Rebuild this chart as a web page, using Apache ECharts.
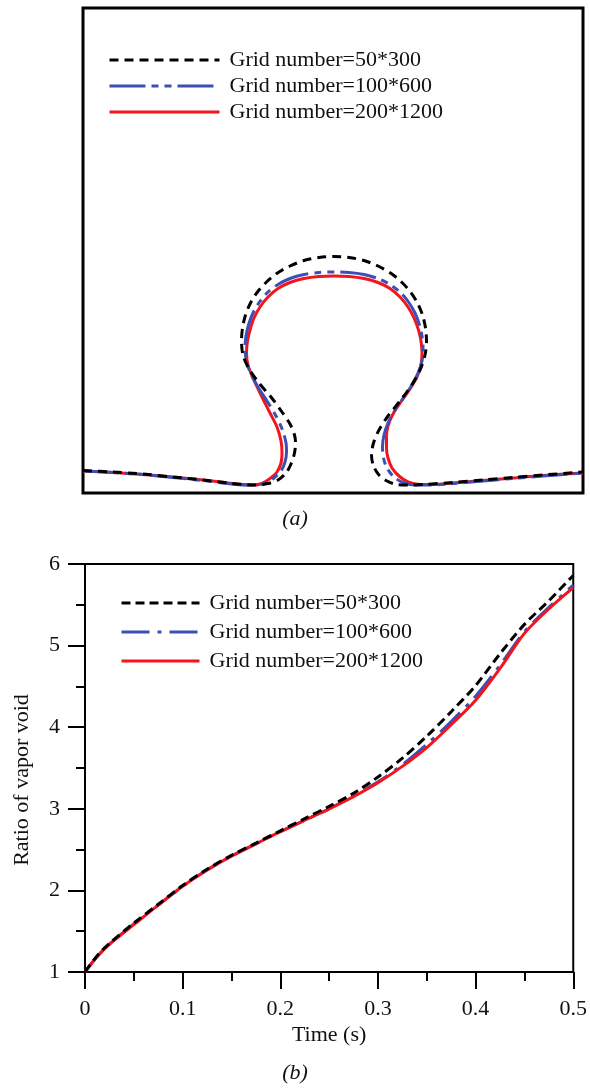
<!DOCTYPE html>
<html><head><meta charset="utf-8">
<script src="https://cdn.jsdelivr.net/npm/echarts@6/dist/echarts.min.js"></script>
<style>html,body{margin:0;padding:0;background:#fff}#c{width:590px;height:1090px}</style>
</head><body><div id="c"></div>
<script>
const seriesNames = ['Grid number=50*300', 'Grid number=100*600', 'Grid number=200*1200'];

// Panel (a): bubble interface contours, [x, y] in domain units (box 0..500 by 0..485)
const contourCoarse = [[0,22.5],[30,21],[60,19],[90,16],[120,13],[145,10],[160,8.5],[172,8],[185,9.5],[195,13],[203,20],[208,29],[211.5,40],[212.5,50],[211.5,58],[207,69],[199,81],[188,96],[176,110],[166,124],[160,138],[158.5,152],[159.5,165],[162.5,178],[167.5,190],[174.5,201],[183.5,211],[194.5,220],[207,227],[221,232.5],[236,235.5],[251,236.5],[266,235.5],[281,232.5],[295,227],[307.5,220],[318.5,211],[327.5,201],[334.5,190],[339.5,178],[342.5,165],[343.5,152],[342,138],[337,123],[328,107],[317,92],[305,77],[296,63],[290.5,50],[288.5,38],[290.5,27],[296,18],[304,12],[314,8.5],[326,8],[340,8.5],[370,10.5],[400,13],[430,15.5],[460,18],[500,21]];
const contourMedium = [[0,22],[30,20.5],[60,18.5],[90,15.5],[120,12.5],[145,9.5],[162,8],[173,8],[183,10],[191,15],[198,22],[202,31],[203.5,41],[203,50],[199.5,63],[193,77],[184,92],[175,106],[167.5,120],[163.5,132],[162,145],[163,157],[165.5,168],[170,180],[176.5,191],[184.5,200.5],[195,208.5],[207,214.5],[221,218.5],[236,220.5],[251,221],[266,220.5],[281,218.5],[295,214.5],[307,208.5],[317.5,200.5],[325.5,191],[332,180],[336.5,168],[339,157],[340,145],[339,132],[335,120],[329,108],[321,96],[312,83],[305,70],[301,58],[299.5,46],[300.5,35],[304,25],[311,16],[321,10],[333,8],[347,8],[370,9.5],[400,12],[430,14.5],[460,17],[500,20]];
const contourFine = [[0,22],[30,20.5],[60,18.5],[90,16],[120,13],[145,10],[160,8.5],[170,8],[179,9.5],[187,14.5],[194,21],[198,30],[199,40],[198,52],[194,66],[187,80],[178,98],[169.5,116],[165,128],[163.5,140],[164.5,152],[167,163],[171,175],[177,186],[185,196],[195,204.5],[207,210.5],[221,214.5],[236,216.5],[251,217],[266,216.5],[281,214.5],[295,210.5],[307,204.5],[317,196],[325,186],[331,175],[335.5,163],[338,152],[339,140],[338,128],[334,116],[327,104],[318.5,92],[310,79],[305,67],[303.5,56],[303.5,45],[305,35],[309,25],[316,17],[325,11],[337,8.5],[350,8.5],[370,10],[400,12.5],[430,15],[460,17.5],[500,20]];

// Panel (b): ratio of vapor void vs time
const timeS       = [0, 0.0125, 0.025, 0.05, 0.075, 0.1, 0.125, 0.15, 0.175, 0.2, 0.225, 0.25, 0.275, 0.3, 0.325, 0.35, 0.375, 0.4, 0.425, 0.45, 0.475, 0.5];
const ratioCoarse = [1.00, 1.20, 1.35, 1.60, 1.83, 2.06, 2.26, 2.43, 2.58, 2.73, 2.88, 3.03, 3.19, 3.39, 3.62, 3.89, 4.19, 4.51, 4.90, 5.26, 5.55, 5.86];
const ratioMedium = [1.00, 1.19, 1.34, 1.59, 1.82, 2.05, 2.25, 2.42, 2.57, 2.72, 2.86, 3.00, 3.16, 3.33, 3.54, 3.79, 4.07, 4.38, 4.76, 5.17, 5.47, 5.74];
const ratioFine   = [1.00, 1.19, 1.34, 1.58, 1.82, 2.05, 2.25, 2.42, 2.57, 2.72, 2.86, 3.00, 3.15, 3.32, 3.52, 3.75, 4.03, 4.33, 4.72, 5.15, 5.45, 5.71];

const BLACK = '#000000', BLUE = '#3c4fb4', RED = '#f5141c';
const FONT = '"Liberation Serif", "Times New Roman", serif';

const dashA = { coarse: [9, 6], medium: [36, 6, 7, 6, 7, 6] };
const dashB = { coarse: [9, 5], medium: [28, 8, 4, 8] };

function pairs(xs, ys) { return xs.map((x, i) => [x, ys[i]]); }

const chart = echarts.init(document.getElementById('c'), null, { renderer: 'canvas' });

const legendText = { fontFamily: FONT, fontSize: 22, color: '#111', padding: [0, 0, 0, 5] };
const hiddenSymbol = { opacity: 0, color: 'transparent', borderWidth: 0 };

chart.setOption({
  animation: false,
  backgroundColor: '#fff',
  grid: [
    { left: 83, top: 8, width: 500, height: 485, show: true, borderColor: '#000', borderWidth: 3, backgroundColor: 'transparent' },
    { left: 85, top: 564, width: 489, height: 408, show: true, borderColor: '#000', borderWidth: 2, backgroundColor: 'transparent' }
  ],
  xAxis: [
    { gridIndex: 0, type: 'value', min: 0, max: 500, show: false },
    { gridIndex: 1, type: 'value', min: 0, max: 0.5, interval: 0.1,
      name: 'Time (s)', nameLocation: 'middle', nameGap: 52,
      nameTextStyle: { fontFamily: FONT, fontSize: 22, color: '#111' },
      axisLine: { show: true, lineStyle: { color: '#000', width: 2 } },
      axisTick: { show: true, inside: false, length: 17, lineStyle: { color: '#000', width: 2 } },
      minorTick: { show: true, splitNumber: 2, length: 9, lineStyle: { color: '#000', width: 2 } },
      splitLine: { show: false },
      axisLabel: { fontFamily: FONT, fontSize: 22, color: '#111', margin: 26 } }
  ],
  yAxis: [
    { gridIndex: 0, type: 'value', min: 0, max: 485, show: false },
    { gridIndex: 1, type: 'value', min: 1, max: 6, interval: 1,
      name: 'Ratio of vapor void', nameLocation: 'middle', nameGap: 52, nameRotate: 90,
      nameTextStyle: { fontFamily: FONT, fontSize: 22, color: '#111', padding: [0, 24, 0, 0] },
      axisLine: { show: true, lineStyle: { color: '#000', width: 2 } },
      axisTick: { show: true, inside: false, length: 17, lineStyle: { color: '#000', width: 2 } },
      minorTick: { show: true, splitNumber: 2, length: 9, lineStyle: { color: '#000', width: 2 } },
      splitLine: { show: false },
      axisLabel: { fontFamily: FONT, fontSize: 22, color: '#111', margin: 25 } }
  ],
  legend: [
    { orient: 'vertical', left: 108, top: 49, padding: 0, itemWidth: 110, itemHeight: 22, itemGap: 4,
      textStyle: legendText, selectedMode: false, itemStyle: hiddenSymbol,
      data: [
        { name: seriesNames[0], lineStyle: { color: BLACK, width: 3, type: dashA.coarse } },
        { name: seriesNames[1], lineStyle: { color: BLUE, width: 3, type: dashA.medium } },
        { name: seriesNames[2], lineStyle: { color: RED, width: 3, type: 'solid' } }
      ] },
    { orient: 'vertical', left: 120, top: 592, padding: 0, itemWidth: 78, itemHeight: 22, itemGap: 7,
      textStyle: legendText, selectedMode: false, itemStyle: hiddenSymbol,
      data: [
        { name: seriesNames[0], lineStyle: { color: BLACK, width: 3, type: dashB.coarse } },
        { name: seriesNames[1], lineStyle: { color: BLUE, width: 3, type: dashB.medium } },
        { name: seriesNames[2], lineStyle: { color: RED, width: 3, type: 'solid' } }
      ] }
  ],
  graphic: [
    { type: 'text', left: 'center', top: 508, style: { text: '(a)', font: 'italic 22px ' + FONT, fill: '#111' } },
    { type: 'text', left: 'center', top: 1062, style: { text: '(b)', font: 'italic 22px ' + FONT, fill: '#111' } }
  ],
  series: [
    { name: seriesNames[2], type: 'line', xAxisIndex: 0, yAxisIndex: 0, data: contourFine, showSymbol: false, symbol: 'none', smooth: 0.3, lineStyle: { color: RED, width: 3, type: 'solid' }, itemStyle: { color: RED }, z: 2 },
    { name: seriesNames[1], type: 'line', xAxisIndex: 0, yAxisIndex: 0, data: contourMedium, showSymbol: false, symbol: 'none', smooth: 0.3, lineStyle: { color: BLUE, width: 3, type: dashA.medium }, itemStyle: { color: BLUE }, z: 3 },
    { name: seriesNames[0], type: 'line', xAxisIndex: 0, yAxisIndex: 0, data: contourCoarse, showSymbol: false, symbol: 'none', smooth: 0.3, lineStyle: { color: BLACK, width: 3, type: dashA.coarse }, itemStyle: { color: BLACK }, z: 4 },

    { name: seriesNames[1], type: 'line', xAxisIndex: 1, yAxisIndex: 1, data: pairs(timeS, ratioMedium), showSymbol: false, symbol: 'none', smooth: 0.3, lineStyle: { color: BLUE, width: 3, type: dashB.medium }, itemStyle: { color: BLUE }, z: 2 },
    { name: seriesNames[2], type: 'line', xAxisIndex: 1, yAxisIndex: 1, data: pairs(timeS, ratioFine), showSymbol: false, symbol: 'none', smooth: 0.3, lineStyle: { color: RED, width: 3, type: 'solid' }, itemStyle: { color: RED }, z: 3 },
    { name: seriesNames[0], type: 'line', xAxisIndex: 1, yAxisIndex: 1, data: pairs(timeS, ratioCoarse), showSymbol: false, symbol: 'none', smooth: 0.3, lineStyle: { color: BLACK, width: 3, type: dashB.coarse }, itemStyle: { color: BLACK }, z: 4 }
  ]
});
</script>
</body></html>
